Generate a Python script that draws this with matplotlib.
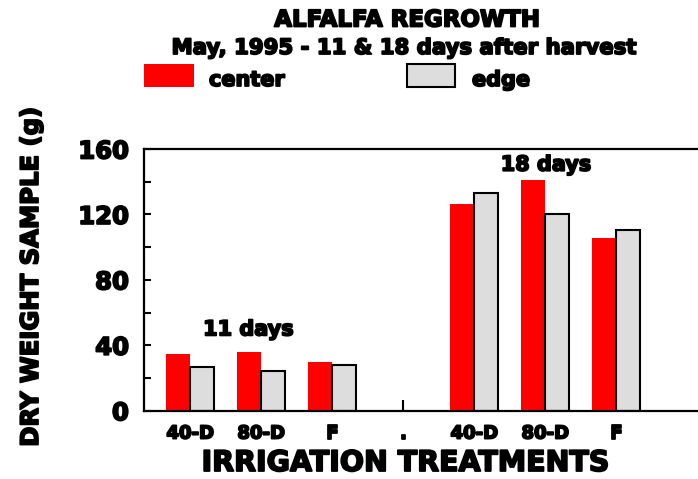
import matplotlib.pyplot as plt
import matplotlib.patheffects as pe
from matplotlib.patches import Rectangle

plt.rcParams['font.family'] = ['DejaVu Sans']
plt.rcParams['font.weight'] = 'bold'

# data
groups = ['40-D', '80-D', 'F', '.', '40-D', '80-D', 'F']
center = [34.5, 35.7, 29.6, None, 126.6, 141.0, 105.8]
edge = [26.8, 24.4, 28.0, None, 133.4, 120.0, 110.3]
yticks = [0, 40, 80, 120, 160]
yminor = [20, 60, 100, 140]

red = '#ff0000'
grey = '#dddddd'
bw = 0.338
heavy = [pe.withStroke(linewidth=1.3, foreground='black')]

fig = plt.figure(figsize=(6.98, 4.79), dpi=100)
ax = fig.add_axes([0.2063, 0.1426, 0.7937, 0.5463])

xs = [i for i, v in enumerate(center) if v is not None]
ax.bar([x - bw / 2 for x in xs], [center[i] for i in xs], width=bw,
       color=red, linewidth=0, zorder=2)
ax.bar([x + bw / 2 for x in xs], [edge[i] for i in xs], width=bw,
       color=grey, edgecolor='black', linewidth=1.5, zorder=2)

ax.set_xlim(-0.65, 7.15)
ax.set_ylim(0, 160)
ax.spines['right'].set_visible(False)
for s in ['left', 'top', 'bottom']:
    ax.spines[s].set_linewidth(1.6)

ax.set_yticks(yticks)
ax.set_yticks(yminor, minor=True)
ax.set_yticklabels([str(v) for v in yticks], fontsize=17.5, fontweight='heavy',
                   path_effects=heavy)
ax.xaxis.remove_overlapping_locs = False
ax.set_xticks(range(len(groups)))
ax.set_xticklabels(groups, fontsize=13, fontweight='heavy', path_effects=heavy)
ax.set_xticks([3], minor=True)
ax.tick_params(axis='y', which='both', direction='in', length=5, width=1.5, pad=11)
ax.tick_params(axis='x', which='major', length=0, pad=10)
ax.tick_params(axis='x', which='minor', direction='in', length=8, width=1.5)

ax.text(0.82, 49.7, '11 days', ha='center', va='center', fontsize=15,
        fontweight='heavy', path_effects=heavy)
ax.text(5.01, 150.4, '18 days', ha='center', va='center', fontsize=15,
        fontweight='heavy', path_effects=heavy)

fig.text(405.5 / 698, 2 / 479, 'IRRIGATION TREATMENTS',
         ha='center', va='bottom', fontsize=20.5, fontweight='heavy', path_effects=heavy)
fig.text(31 / 698, 1 - 277 / 479, 'DRY WEIGHT SAMPLE (g)', rotation=90,
         ha='center', va='center', fontsize=17.5, fontweight='heavy', path_effects=heavy)

fig.text(407 / 698, 1 - 20 / 479, 'ALFALFA REGROWTH', ha='center', va='center',
         fontsize=16.5, fontweight='heavy', path_effects=heavy)
fig.text(404 / 698, 1 - 48 / 479, 'May, 1995 - 11 & 18 days after harvest',
         ha='center', va='center', fontsize=15.3, fontweight='heavy', path_effects=heavy)

# legend
fig.add_artist(Rectangle((144 / 698, 1 - 87 / 479), 50 / 698, 23 / 479,
                         transform=fig.transFigure, facecolor=red, linewidth=0))
fig.add_artist(Rectangle((407 / 698, 1 - 87 / 479), 48 / 698, 23 / 479,
                         transform=fig.transFigure, facecolor=grey,
                         edgecolor='black', linewidth=1.5))
fig.text(209 / 698, 1 - 80 / 479, 'center', ha='left', va='center',
         fontsize=15, fontweight='heavy', path_effects=heavy)
fig.text(472 / 698, 1 - 80 / 479, 'edge', ha='left', va='center',
         fontsize=15, fontweight='heavy', path_effects=heavy)

fig.savefig('out.png', dpi=100)
